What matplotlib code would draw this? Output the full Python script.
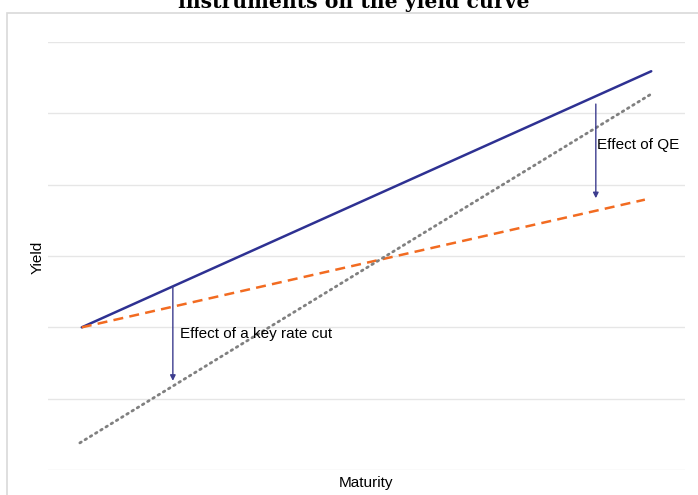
import matplotlib
matplotlib.use("Agg")
import matplotlib.pyplot as plt
from matplotlib.patches import Rectangle

# yield curves (maturity 0..10, yield 0..6 arbitrary units)
maturity = [0.53, 9.47]
curve_before = [2.0, 5.59]
maturity_qe = [0.53, 9.37]
curve_qe = [2.0, 3.79]
maturity_cut = [0.5, 9.45]
curve_cut = [0.38, 5.26]

# arrows: (x, y_from, y_to)
arrow_cut = (1.96, 2.57, 1.25)
arrow_qe = (8.6, 5.13, 3.81)

fig = plt.figure(figsize=(6.98, 4.95), dpi=100)
W, H = 698, 495
ax = fig.add_axes([48 / W, 1 - 470 / H, (685 - 48) / W, (470 - 42) / H])

# light frame round the chart
fig.patches.append(Rectangle((7 / W, -0.05), 1.0, 1 - 13 / H + 0.05,
                             transform=fig.transFigure, fill=False,
                             edgecolor="#d9d9d9", linewidth=1.2))

ax.plot(maturity, curve_before, color="#2e3192", lw=1.8, solid_capstyle="round")
ax.plot(maturity_qe, curve_qe, color="#f26b21", lw=1.8, ls=(0, (4, 2.5)))
ax.plot(maturity_cut, curve_cut, color="#808080", lw=2.0, ls=(0, (0.6, 1.6)),
        dash_capstyle="round")

for x, y0, y1 in [arrow_cut, arrow_qe]:
    ax.annotate("", xy=(x, y1), xytext=(x, y0),
                arrowprops=dict(arrowstyle="-|>", color="#3d3d8f", lw=1.0,
                                mutation_scale=8, shrinkA=0, shrinkB=0))

ax.text(2.08, 1.9, "Effect of a key rate cut", fontsize=11, va="center",
        family="Liberation Sans")
ax.text(8.62, 4.55, "Effect of QE", fontsize=11, va="center",
        family="Liberation Sans")

ax.set_xlim(0, 10)
ax.set_ylim(0, 6)
ax.set_yticks(range(0, 7))
ax.set_xticks([])
ax.tick_params(axis="y", length=0, labelleft=False)
ax.grid(axis="y", color="#e6e6e6", lw=1.0)
ax.set_axisbelow(True)
for s in ax.spines.values():
    s.set_visible(False)

fig.text(38 / W, 1 - 257 / H, "Yield", rotation=90, ha="center", va="center",
         fontsize=11, family="Liberation Sans")
fig.text(366 / W, 1 - 483 / H, "Maturity", ha="center", va="center",
         fontsize=11, family="Liberation Sans")
# title runs off the top edge in the reference; only its last line is visible
fig.text(354 / W, 1 - 8 / H, "instruments on the yield curve",
         ha="center", va="baseline", fontsize=14.7, fontweight="bold",
         family="DejaVu Serif")

fig.savefig("out.png", dpi=100)
